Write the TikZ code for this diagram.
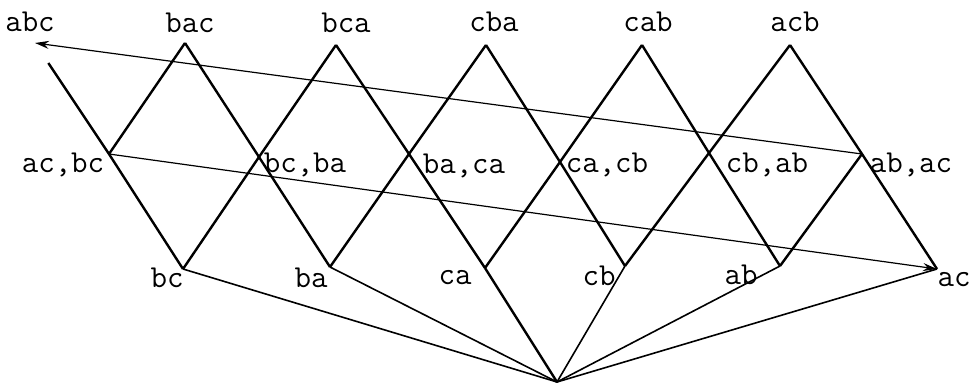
\documentclass[tikz,border=0pt]{standalone}
\usetikzlibrary{arrows.meta}
\begin{document}
\begin{tikzpicture}[
  x=0.5pt,y=-0.5pt,
  lbl/.style={font=\fontsize{16}{18}\selectfont\ttfamily,inner sep=0pt},
  edge/.style={line width=1.2pt},
  drop/.style={line width=0.8pt},
  arrow/.style={-{Stealth[length=7pt,width=4pt]},line width=0.6pt}
]
\useasboundingbox (0,0) rectangle (970,385);
% top row
\coordinate (abc) at (35,43);
\coordinate (bac) at (185,43);
\coordinate (bca) at (336,45);
\coordinate (cba) at (486,45);
\coordinate (cab) at (642,45);
\coordinate (acb) at (790,45);
% middle row
\coordinate (acbc) at (109,154);
\coordinate (bcba) at (259,157);
\coordinate (baca) at (409,154);
\coordinate (cacb) at (560,162);
\coordinate (cbab) at (709,153);
\coordinate (abac) at (862,154);
% bottom row
\coordinate (bc) at (183,269);
\coordinate (ba) at (330,267);
\coordinate (ca) at (485,268);
\coordinate (cb) at (625,266);
\coordinate (ab) at (780,266);
\coordinate (ac) at (937,269);
\coordinate (bot) at (557,382);
% labels
\node[lbl] (abcL) at (30,22) {abc};
\node[lbl] (bacL) at (190,23) {bac};
\node[lbl] (bcaL) at (346,23) {bca};
\node[lbl] (cbaL) at (494,22) {cba};
\node[lbl] (cabL) at (648,22) {cab};
\node[lbl] (acbL) at (795,22) {acb};
\node[lbl] (acbcL) at (63,165) {ac,bc};
\node[lbl] (bcbaL) at (305,165) {bc,ba};
\node[lbl] (bacaL) at (464,166) {ba,ca};
\node[lbl] (cacbL) at (607,165) {ca,cb};
\node[lbl] (cbabL) at (767,165) {cb,ab};
\node[lbl] (abacL) at (911,165) {ab,ac};
\node[lbl] (bcL) at (167,278) {bc};
\node[lbl] (baL) at (311,278) {ba};
\node[lbl] (caL) at (455,278) {ca};
\node[lbl] (cbL) at (599,276) {cb};
\node[lbl] (abL) at (741,275) {ab};
\node[lbl] (acL) at (954,280) {ac};
% down-right lines
\draw[edge,shorten <=12pt] (abc)--(acbc)--(bc);
\draw[edge] (bac)--(bcba)--(ba); \draw[edge] (bca)--(baca)--(ca);
\draw[edge] (cba)--(cacb)--(cb); \draw[edge] (cab)--(cbab)--(ab);
\draw[edge] (acb)--(abac)--(ac);
% down-left lines
\draw[edge] (bac)--(acbc); \draw[edge] (bca)--(bcba)--(bc);
\draw[edge] (cba)--(baca)--(ba); \draw[edge] (cab)--(cacb)--(ca);
\draw[edge] (acb)--(cbab)--(cb); \draw[edge] (abac)--(ab);
% long links
\draw[arrow] (abac)--(abc);
\draw[arrow] (acbc)--(ac);
% to the bottom
\draw[drop] (bc)--(bot); \draw[drop] (ba)--(bot); \draw[edge] (ca)--(bot);
\draw[drop] (cb)--(bot); \draw[drop] (ab)--(bot); \draw[drop] (ac)--(bot);
\end{tikzpicture}
\end{document}
